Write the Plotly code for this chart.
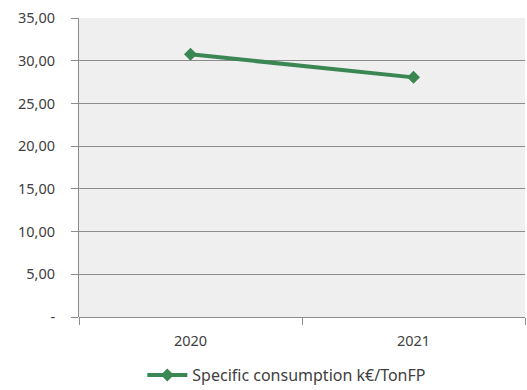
import plotly.graph_objects as go

years = ["2020", "2021"]
values = [30.75, 28.05]
y_ticks = [0, 5, 10, 15, 20, 25, 30, 35]
y_tick_labels = ["-", "5,00", "10,00", "15,00", "20,00", "25,00", "30,00", "35,00"]

fig = go.Figure()
fig.add_trace(go.Scatter(
    x=years, y=values, mode="lines+markers",
    name="Specific consumption k€/TonFP",
    line=dict(color="#3a8753", width=4),
    marker=dict(symbol="diamond", size=10, color="#3a8753"),
))

fig.update_layout(
    width=527, height=390,
    autosize=False,
    margin=dict(l=79, r=2, t=18, b=73, autoexpand=False),
    paper_bgcolor="white",
    plot_bgcolor="#efefef",
    font=dict(family="Noto Sans, Open Sans, sans-serif", size=14.5, color="#404040"),
    showlegend=True,
    legend=dict(orientation="h", x=0.142, xanchor="left", y=-0.194, yanchor="middle",
                font=dict(size=16, color="#404040"), itemwidth=40),
)
fig.update_xaxes(
    type="category", range=[-0.5, 1.5],
    showgrid=False, showline=False, zeroline=False,
    ticks="outside", tickson="boundaries", ticklen=7, tickcolor="#8c8c8c",
    ticklabelstandoff=13,
    tickfont=dict(size=14.5, color="#404040"),
)
fig.update_yaxes(
    range=[0, 35], tickvals=y_ticks, ticktext=y_tick_labels,
    showgrid=True, gridcolor="#8c8c8c", gridwidth=1,
    showline=True, linecolor="#8c8c8c", linewidth=1,
    zeroline=True, zerolinecolor="#8c8c8c", zerolinewidth=1,
    ticks="outside", ticklen=7, tickcolor="#8c8c8c",
    ticklabelstandoff=13,
    tickfont=dict(size=14.5, color="#404040"),
)

fig.write_html("out.html", config={"displayModeBar": False},
               post_script="document.body.style.margin='0';")
